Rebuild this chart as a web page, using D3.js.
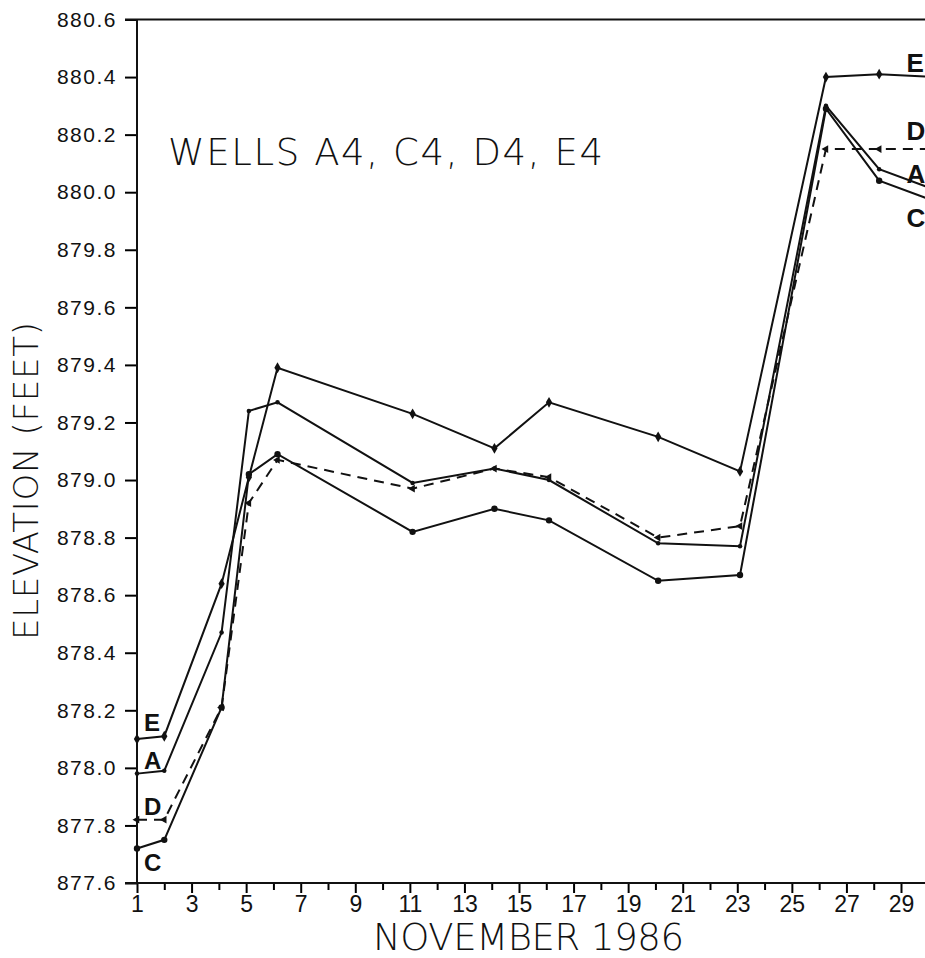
<!DOCTYPE html>
<html>
<head>
<meta charset="utf-8">
<script src="https://cdn.jsdelivr.net/npm/d3@7"></script>
<style>
  body { margin: 0; background: #fff; }
  svg { display: block; }
</style>
</head>
<body>
<div id="chart"></div>
<script>
// values (days in November 1986, elevation in feet)
var days = [1, 2, 4.1, 5.1, 6.15, 11.1, 14.1, 16.1, 20.1, 23.1, 26.25, 28.2, 30.2];
var wellE = [878.10, 878.11, 878.64, 879.01, 879.39, 879.23, 879.11, 879.27, 879.15, 879.03, 880.40, 880.41, 880.40];
var wellA = [877.98, 877.99, 878.47, 879.24, 879.27, 878.99, 879.04, 879.00, 878.78, 878.77, 880.30, 880.08, 880.01];
var wellD = [877.82, 877.82, 878.21, 878.92, 879.07, 878.97, 879.04, 879.01, 878.80, 878.84, 880.15, 880.15, 880.15];
var wellC = [877.72, 877.75, 878.21, 879.02, 879.09, 878.82, 878.90, 878.86, 878.65, 878.67, 880.29, 880.04, 879.97];

var yTicks = [877.6, 877.8, 878.0, 878.2, 878.4, 878.6, 878.8, 879.0, 879.2, 879.4, 879.6, 879.8, 880.0, 880.2, 880.4, 880.6];
var xTicks = d3.range(1, 30);

var W = 925, H = 958;
var margin = {top: 19.5, left: 137},
    height = 883 - margin.top;

var svg = d3.select("#chart")
  .append("svg")
    .attr("width", W)
    .attr("height", H)
  .append("g")
    .attr("transform", "translate(" + margin.left + "," + margin.top + ")");

var x = d3.scaleLinear().domain([1, 29]).range([0, 764]);
var y = d3.scaleLinear().domain([877.6, 880.6]).range([height, 0]);

var series = [
  {name: "E", values: wellE, dash: null, symbol: d3.symbolDiamond, size: 34},
  {name: "A", values: wellA, dash: null, symbol: d3.symbolCircle, size: 16},
  {name: "D", values: wellD, dash: "10,7", symbol: d3.symbolTriangle, size: 26},
  {name: "C", values: wellC, dash: null, symbol: d3.symbolCircle, size: 32}
];

// axes
var yAxis = svg.append("g")
  .call(d3.axisLeft(y).tickValues(yTicks).tickSize(12).tickPadding(8)
    .tickFormat(d3.format(".1f")));
yAxis.select(".domain").remove();
yAxis.selectAll("line").attr("stroke-width", 2);
yAxis.selectAll("text")
  .attr("font-family", "'Liberation Sans', sans-serif")
  .attr("font-size", 21)
  .attr("letter-spacing", 1.5)
  .attr("fill", "#111");

var xAxis = svg.append("g")
  .attr("transform", "translate(0," + height + ")")
  .call(d3.axisBottom(x).tickValues(xTicks).tickSize(10).tickPadding(3)
    .tickFormat(function(d) { return d % 2 ? d : ""; }));
xAxis.select(".domain").remove();
xAxis.selectAll("line")
  .attr("stroke-width", 2)
  .attr("y2", function(d) { return d % 2 ? 10 : 7; });
xAxis.selectAll("text")
  .attr("font-family", "'Liberation Sans', sans-serif")
  .attr("font-size", 23)
  .attr("fill", "#111");

// frame lines
svg.append("line")
  .attr("x1", 0).attr("x2", 0)
  .attr("y1", 0).attr("y2", height)
  .attr("stroke", "#111").attr("stroke-width", 2);
svg.append("line")
  .attr("x1", -12).attr("x2", W)
  .attr("y1", height).attr("y2", height)
  .attr("stroke", "#111").attr("stroke-width", 2);
svg.append("line")
  .attr("x1", -12).attr("x2", W)
  .attr("y1", 0).attr("y2", 0)
  .attr("stroke", "#111").attr("stroke-width", 2);

// lines
var line = d3.line()
  .x(function(d) { return x(d[0]); })
  .y(function(d) { return y(d[1]); });

series.forEach(function(s) {
  var pts = days.map(function(d, i) { return [d, s.values[i]]; });
  svg.append("path")
    .datum(pts)
    .attr("fill", "none")
    .attr("stroke", "#111")
    .attr("stroke-width", 2)
    .attr("stroke-dasharray", s.dash)
    .attr("d", line);

  svg.selectAll(".m" + s.name)
    .data(pts)
    .enter()
    .append("path")
      .attr("class", "m" + s.name)
      .attr("d", d3.symbol().type(s.symbol).size(s.size))
      .attr("transform", function(d) {
        return "translate(" + x(d[0]) + "," + y(d[1]) + ")" + (s.name == "D" ? " rotate(-90)" : "");
      })
      .attr("fill", "#111");
});

// well labels at both ends of the lines
var leftDy = [-8, -5, -5, 23];
var rightDy = [-5, -6, -9, 26];
series.forEach(function(s, i) {
  svg.append("text")
    .attr("x", x(1) + 7)
    .attr("y", y(s.values[0]) + leftDy[i])
    .attr("font-family", "'Liberation Sans', Arial, sans-serif")
    .attr("font-weight", "bold")
    .attr("font-size", 24)
    .attr("fill", "#111")
    .text(s.name);
  svg.append("text")
    .attr("x", x(29.2))
    .attr("y", y(s.values[s.values.length - 1]) + rightDy[i])
    .attr("font-family", "'Liberation Sans', Arial, sans-serif")
    .attr("font-weight", "bold")
    .attr("font-size", 26)
    .attr("fill", "#111")
    .text(s.name);
});

// titles
svg.append("text")
  .attr("x", 168 - margin.left)
  .attr("y", 165 - margin.top)
  .attr("font-family", "'DejaVu Sans', sans-serif")
  .attr("font-weight", 200)
  .attr("font-size", 37)
  .attr("textLength", 435)
  .attr("fill", "#111")
  .text("WELLS A4, C4, D4, E4");

svg.append("text")
  .attr("x", 373 - margin.left)
  .attr("y", 950 - margin.top)
  .attr("font-family", "'DejaVu Sans', sans-serif")
  .attr("font-weight", 200)
  .attr("font-size", 37)
  .attr("textLength", 311)
  .attr("fill", "#111")
  .text("NOVEMBER 1986");

svg.append("text")
  .attr("transform", "translate(" + (38 - margin.left) + "," + (481 - margin.top) + ") rotate(-90)")
  .attr("text-anchor", "middle")
  .attr("font-family", "'DejaVu Sans', sans-serif")
  .attr("font-weight", 200)
  .attr("font-size", 34)
  .attr("textLength", 318)
  .attr("fill", "#111")
  .text("ELEVATION (FEET)");
</script>
</body>
</html>
